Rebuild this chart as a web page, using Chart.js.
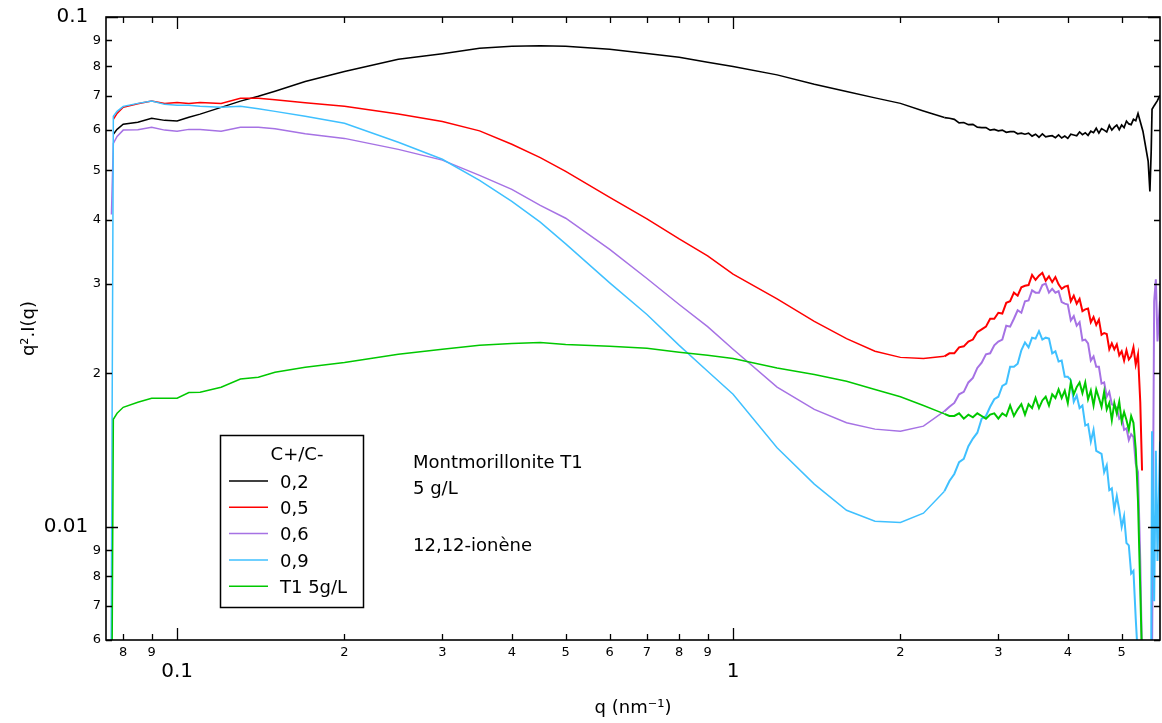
<!DOCTYPE html>
<html>
<head>
<meta charset="utf-8">
<title>q2.I(q) - Montmorillonite T1</title>
<script src="https://cdn.jsdelivr.net/npm/chart.js@4.4.0/dist/chart.umd.min.js"></script>
<style>
  html, body { margin: 0; padding: 0; background: #fff; }
  #wrap { position: relative; width: 1162px; height: 723px; }
</style>
</head>
<body>
<div id="wrap"><canvas id="chart" width="1162" height="723"></canvas></div>
<script>
// q (nm^-1) where the curves are smooth
const qLow = [0.0768, 0.078, 0.08, 0.085, 0.09, 0.095, 0.1, 0.105, 0.11, 0.12, 0.13, 0.14, 0.15, 0.17, 0.2, 0.25,
  0.3, 0.35, 0.4, 0.45, 0.5, 0.6, 0.7, 0.8, 0.9, 1.0, 1.2, 1.4, 1.6, 1.8, 2.0, 2.2, 2.4];
// denser q where the data gets noisy
const qHigh = [2.45, 2.5, 2.55, 2.6, 2.65, 2.7, 2.75, 2.8, 2.85, 2.9, 2.95, 3.0, 3.05, 3.1, 3.15, 3.2, 3.25, 3.3, 3.35, 3.4,
  3.45, 3.5, 3.55, 3.6, 3.65, 3.7, 3.75, 3.8, 3.85, 3.9, 3.95, 4.0, 4.05, 4.1, 4.15, 4.2, 4.25, 4.3, 4.35, 4.4,
  4.45, 4.5, 4.55, 4.6, 4.65, 4.7, 4.75, 4.8, 4.85, 4.9, 4.95, 5.0, 5.05, 5.1, 5.15, 5.2];

// q^2.I(q), C+/C- = 0,2
const low02 = [0.0589, 0.0602, 0.0616, 0.0622, 0.0633, 0.0627, 0.0625, 0.0636, 0.0645, 0.0665, 0.0684, 0.0699, 0.0715, 0.0747, 0.0782, 0.0826,
  0.0847, 0.0868, 0.0876, 0.0878, 0.0876, 0.0864, 0.0848, 0.0834, 0.0815, 0.0800, 0.0770, 0.0738, 0.0714, 0.0694, 0.0677, 0.0654, 0.0635];
const high02 = [0.0633, 0.0630, 0.0620, 0.0621, 0.0615, 0.0616, 0.0608, 0.0607, 0.0607, 0.0600, 0.0602, 0.0598, 0.0600, 0.0594, 0.0596, 0.0596, 0.0590, 0.0592, 0.0589, 0.0592,
  0.0584, 0.0589, 0.0581, 0.0590, 0.0582, 0.0584, 0.0585, 0.0580, 0.0587, 0.0579, 0.0584, 0.0578, 0.0589, 0.0587, 0.0585, 0.0595, 0.0588, 0.0593, 0.0586, 0.0597,
  0.0593, 0.0605, 0.0592, 0.0604, 0.0600, 0.0595, 0.0613, 0.0600, 0.0608, 0.0614, 0.0601, 0.0614, 0.0607, 0.0625, 0.0617, 0.0615];
// 0,5
const low05 = [0.0630, 0.0647, 0.0665, 0.0676, 0.0684, 0.0677, 0.0680, 0.0677, 0.0680, 0.0677, 0.0693, 0.0693, 0.0688, 0.0679, 0.0668, 0.0645,
  0.0624, 0.0598, 0.0563, 0.0530, 0.0498, 0.0443, 0.0402, 0.0367, 0.0340, 0.0313, 0.0280, 0.0253, 0.0234, 0.0221, 0.0215, 0.0214, 0.0216];
const high05 = [0.0219, 0.0219, 0.0225, 0.0226, 0.0231, 0.0233, 0.0241, 0.0244, 0.0247, 0.0256, 0.0256, 0.0263, 0.0262, 0.0275, 0.0277, 0.0288, 0.0284, 0.0295, 0.0297, 0.0298,
  0.0312, 0.0305, 0.0311, 0.0315, 0.0304, 0.0310, 0.0302, 0.0309, 0.0299, 0.0293, 0.0296, 0.0297, 0.0277, 0.0284, 0.0274, 0.0280, 0.0265, 0.0267, 0.0268, 0.0252,
  0.0258, 0.0249, 0.0255, 0.0238, 0.0240, 0.0239, 0.0223, 0.0229, 0.0223, 0.0228, 0.0217, 0.0221, 0.0212, 0.0222, 0.0213, 0.0216];
// 0,6
const low06 = [0.0565, 0.0583, 0.0600, 0.0601, 0.0608, 0.0600, 0.0597, 0.0602, 0.0602, 0.0597, 0.0608, 0.0608, 0.0604, 0.0590, 0.0578, 0.0550,
  0.0524, 0.0489, 0.0459, 0.0427, 0.0403, 0.0350, 0.0307, 0.0273, 0.0247, 0.0223, 0.0188, 0.0170, 0.0160, 0.01555, 0.0154, 0.01576, 0.01686];
const high06 = [0.0172, 0.0175, 0.0182, 0.0184, 0.0192, 0.0196, 0.0205, 0.0210, 0.0218, 0.0219, 0.0227, 0.0231, 0.0233, 0.0248, 0.0247, 0.0256, 0.0266, 0.0263, 0.0277, 0.0278,
  0.0291, 0.0288, 0.0288, 0.0298, 0.0300, 0.0288, 0.0293, 0.0288, 0.0290, 0.0276, 0.0274, 0.0273, 0.0254, 0.0259, 0.0248, 0.0252, 0.0232, 0.0233, 0.0229, 0.0212,
  0.0216, 0.0206, 0.0206, 0.0191, 0.0192, 0.0180, 0.0184, 0.0174, 0.0173, 0.0171, 0.0163, 0.0165, 0.0155, 0.0156, 0.0148, 0.0152];
// 0,9
const low09 = [0.0639, 0.0653, 0.0668, 0.0677, 0.0684, 0.0674, 0.0671, 0.0671, 0.0668, 0.0665, 0.0668, 0.0661, 0.0653, 0.0639, 0.0619, 0.0568,
  0.0526, 0.0478, 0.0435, 0.0396, 0.0359, 0.0301, 0.0261, 0.0227, 0.0202, 0.0182, 0.0143, 0.01213, 0.01078, 0.01026, 0.0102, 0.01064, 0.01175];
const high09 = [0.0123, 0.0127, 0.0134, 0.0136, 0.0144, 0.0149, 0.0153, 0.0163, 0.0165, 0.0172, 0.0178, 0.0180, 0.0189, 0.0191, 0.0206, 0.0206, 0.0209, 0.0222, 0.0230, 0.0225,
  0.0235, 0.0234, 0.0242, 0.0233, 0.0235, 0.0234, 0.0219, 0.0221, 0.0211, 0.0212, 0.0197, 0.0197, 0.0194, 0.0176, 0.0181, 0.0171, 0.0173, 0.0158, 0.0159, 0.0147,
  0.0155, 0.0141, 0.0140, 0.0139, 0.0128, 0.0132, 0.0118, 0.0119, 0.0108, 0.0115, 0.0108, 0.0100, 0.0105, 0.0093, 0.0092, 0.0081];
// T1 5g/L
const lowT1 = [0.01626, 0.0167, 0.01716, 0.01755, 0.01788, 0.01788, 0.01788, 0.01835, 0.01837, 0.01879, 0.0195, 0.01965, 0.0201, 0.02056, 0.0210, 0.0218,
  0.0223, 0.0227, 0.0229, 0.0230, 0.0228, 0.0226, 0.0224, 0.0220, 0.0217, 0.0214, 0.0205, 0.0199, 0.0193, 0.0186, 0.0180, 0.0173, 0.01666];
const highT1 = [0.0165, 0.0165, 0.0167, 0.0163, 0.0166, 0.0164, 0.0167, 0.0165, 0.0163, 0.0166, 0.0167, 0.0163, 0.0167, 0.0165, 0.0173, 0.0165, 0.0170, 0.0174, 0.0166, 0.0174,
  0.0171, 0.0179, 0.0171, 0.0177, 0.0180, 0.0173, 0.0182, 0.0179, 0.0186, 0.0179, 0.0185, 0.0175, 0.0192, 0.0182, 0.0188, 0.0192, 0.0183, 0.0192, 0.0178, 0.0185,
  0.0173, 0.0186, 0.0179, 0.0172, 0.0184, 0.0170, 0.0175, 0.0162, 0.0175, 0.0167, 0.0176, 0.0161, 0.0168, 0.0162, 0.0155, 0.0165];

// start and end pieces: [q, value]
const head06 = [[0.0762, 0.041]];
const head09 = [[0.0761, 0.0055]];
const headT1 = [[0.0764, 0.0055]];
const tail02 = [[5.25, 0.0630], [5.3, 0.0626], [5.35, 0.0647], [5.46, 0.0597], [5.58, 0.0521], [5.62, 0.0455], [5.65, 0.0545], [5.67, 0.0659], [5.72, 0.0670], [5.79, 0.0684], [5.86, 0.0702]];
const tail05 = [[5.25, 0.0225], [5.3, 0.0208], [5.35, 0.0218], [5.40, 0.0176], [5.44, 0.0129]];
const tail06 = [[5.25, 0.0150], [5.3, 0.0133], [5.35, 0.0128], [5.4, 0.00857], [5.44, 0.0055], [5.67, 0.0055], [5.72, 0.0277], [5.76, 0.0306], [5.8, 0.0231], [5.86, 0.0277]];
const tail09 = [[5.25, 0.0082], [5.3, 0.0066], [5.35, 0.0055], [5.65, 0.0055], [5.67, 0.0154], [5.72, 0.00715], [5.76, 0.0141], [5.8, 0.00857], [5.86, 0.0147]];
const tailT1 = [[5.25, 0.0160], [5.3, 0.0142], [5.35, 0.0112], [5.44, 0.0055]];

const seriesNames = ['0,2', '0,5', '0,6', '0,9', 'T1 5g/L'];
const seriesColors = ['#000000', '#ff0000', '#a672e4', '#3fc0ff', '#00c800'];

const xTickValues = [0.08, 0.09, 0.1, 0.2, 0.3, 0.4, 0.5, 0.6, 0.7, 0.8, 0.9, 1, 2, 3, 4, 5];
const yTickValues = [0.006, 0.007, 0.008, 0.009, 0.01, 0.02, 0.03, 0.04, 0.05, 0.06, 0.07, 0.08, 0.09, 0.1];

const isDecade = v => Math.abs(Math.log10(v) - Math.round(Math.log10(v))) < 1e-6;
const digit = v => String(Math.round(v / Math.pow(10, Math.floor(Math.log10(v) + 1e-9))));

const toPoints = (head, low, high, tail) => [
  ...head.map(([x, y]) => ({ x, y })),
  ...qLow.map((x, i) => ({ x, y: low[i] })),
  ...qHigh.map((x, i) => ({ x, y: high[i] })),
  ...tail.map(([x, y]) => ({ x, y }))
];

const curves = [
  toPoints([], low02, high02, tail02),
  toPoints([], low05, high05, tail05),
  toPoints(head06, low06, high06, tail06),
  toPoints(head09, low09, high09, tail09),
  toPoints(headT1, lowT1, highT1, tailT1)
];

Chart.defaults.font.family = '"DejaVu Sans", sans-serif';
Chart.defaults.color = '#000';

const frame = {
  id: 'frame',
  afterDraw(chart) {
    const { ctx, chartArea: a, scales: { x, y } } = chart;
    ctx.save();
    ctx.strokeStyle = '#000';
    ctx.lineWidth = 1.6;
    ctx.strokeRect(a.left, a.top, a.right - a.left, a.bottom - a.top);
    ctx.lineWidth = 1.3;
    ctx.beginPath();
    xTickValues.forEach(v => {
      const px = Math.round(x.getPixelForValue(v)) + 0.5;
      const len = isDecade(v) ? 12 : 6;
      ctx.moveTo(px, a.bottom); ctx.lineTo(px, a.bottom - len);
      ctx.moveTo(px, a.top); ctx.lineTo(px, a.top + len);
    });
    yTickValues.forEach(v => {
      const py = Math.round(y.getPixelForValue(v)) + 0.5;
      const len = isDecade(v) ? 12 : 6;
      ctx.moveTo(a.left, py); ctx.lineTo(a.left + len, py);
      ctx.moveTo(a.right, py); ctx.lineTo(a.right - len, py);
    });
    ctx.stroke();

    // legend box
    const bx = 220.5, by = 435.5, bw = 143, bh = 172;
    ctx.fillStyle = '#fff';
    ctx.fillRect(bx, by, bw, bh);
    ctx.lineWidth = 1.5;
    ctx.strokeRect(bx, by, bw, bh);
    ctx.fillStyle = '#000';
    ctx.font = '18px "DejaVu Sans", sans-serif';
    ctx.textBaseline = 'middle';
    ctx.textAlign = 'center';
    ctx.fillText('C+/C-', 297, 455);
    ctx.textAlign = 'left';
    chart.data.datasets.forEach((ds, i) => {
      const ry = 483 + i * 26.3;
      ctx.strokeStyle = ds.borderColor;
      ctx.lineWidth = 1.5;
      ctx.beginPath();
      ctx.moveTo(229, ry - 2); ctx.lineTo(268, ry - 2);
      ctx.stroke();
      ctx.fillText(ds.label, 280, ry);
    });

    // sample annotation
    ctx.fillText('Montmorillonite T1', 413, 463);
    ctx.fillText('5 g/L', 413, 489);
    ctx.fillText('12,12-ionène', 413, 546);
    ctx.restore();
  }
};

new Chart(document.getElementById('chart'), {
  type: 'line',
  data: {
    datasets: curves.map((pts, i) => ({
      label: seriesNames[i],
      data: pts,
      borderColor: seriesColors[i],
      borderWidth: 1.5,
      // the noisy high-q part reads as a slightly heavier trace
      segment: { borderWidth: c => c.p0.parsed.x >= 2.4 ? (i === 0 ? 1.7 : 2) : 1.5 },
      pointRadius: 0,
      tension: 0,
      order: 5 - i
    }))
  },
  options: {
    responsive: false,
    animation: false,
    devicePixelRatio: 1,
    layout: { padding: { top: 15, right: 2, left: 0, bottom: 0 } },
    plugins: { legend: { display: false }, tooltip: { enabled: false } },
    scales: {
      x: {
        type: 'logarithmic',
        min: 0.0745,
        max: 5.86,
        afterBuildTicks: s => { s.ticks = xTickValues.map(v => ({ value: v })); },
        afterFit: s => { s.height = 83; },
        grid: { display: false, drawTicks: false },
        border: { display: false },
        ticks: {
          autoSkip: false,
          maxRotation: 0,
          padding: 5,
          color: '#000',
          font: c => isDecade(c.tick.value) ? { size: 20, lineHeight: 0.9 } : { size: 13, lineHeight: 1.2 },
          callback: v => isDecade(v) ? ['', String(v)] : digit(v)
        },
        title: {
          display: true,
          text: 'q (nm⁻¹)',
          color: '#000',
          font: { size: 18, lineHeight: 1.2 },
          padding: { top: 0, bottom: 4 }
        }
      },
      y: {
        type: 'logarithmic',
        min: 0.006,
        max: 0.1,
        afterBuildTicks: s => { s.ticks = yTickValues.map(v => ({ value: v })); },
        afterFit: s => { s.width = 106; },
        grid: { display: false, drawTicks: false },
        border: { display: false },
        ticks: {
          autoSkip: false,
          padding: 5,
          color: '#000',
          font: c => isDecade(c.tick.value) ? { size: 20 } : { size: 13 },
          callback: v => isDecade(v) ? String(v) + '  ' : digit(v)
        },
        title: {
          display: true,
          text: 'q².I(q)',
          color: '#000',
          font: { size: 18, lineHeight: 1.2 },
          padding: { top: 19, bottom: 0 }
        }
      }
    }
  },
  plugins: [frame]
});
</script>
</body>
</html>
